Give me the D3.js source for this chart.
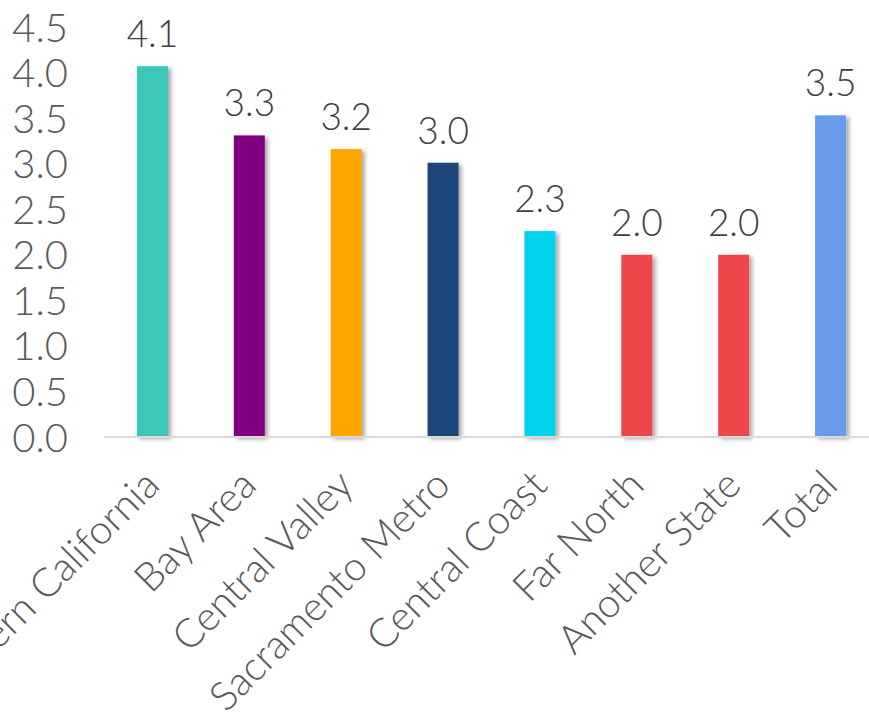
<!DOCTYPE html>
<html>
<head>
<meta charset="utf-8">
<script src="https://cdn.jsdelivr.net/npm/d3@7"></script>
<style>
  html, body { margin: 0; padding: 0; background: #fff; }
  svg { display: block; font-family: "Century Gothic", "Lato", "Open Sans", sans-serif; font-weight: 300; }
</style>
</head>
<body>
<svg id="chart" width="869" height="713"></svg>
<script>
// Regions and their average values
const regions = ["Southern California", "Bay Area", "Central Valley", "Sacramento Metro",
                 "Central Coast", "Far North", "Another State", "Total"];
const values = [4.07, 3.31, 3.16, 3.01, 2.26, 2.0, 2.0, 3.53];
const barColors = ["#3CC7B9", "#800080", "#FFA500", "#1F4478",
                   "#00D4EA", "#EE474A", "#EE474A", "#6A9AEB"];
const yTicks = [0, 0.5, 1, 1.5, 2, 2.5, 3, 3.5, 4, 4.5];

const svg = d3.select("#chart");

// Soft drop shadow behind each bar
const defs = svg.append("defs");
const f = defs.append("filter").attr("id", "shadow")
  .attr("x", "-30%").attr("y", "-10%").attr("width", "170%").attr("height", "130%");
f.append("feDropShadow").attr("dx", 3).attr("dy", 2).attr("stdDeviation", 2)
  .attr("flood-color", "#000").attr("flood-opacity", 0.35);

const x = d3.scaleBand().domain(regions).range([104, 879])
  .paddingInner(0.68).paddingOuter(0.34);
const y = d3.scaleLinear().domain([0, 4.5]).range([437, 27]);

// Y axis labels (no axis line, no ticks)
const yAxis = d3.axisLeft(y).tickValues(yTicks).tickFormat(d3.format(".1f"))
  .tickSize(0).tickPadding(0);
const gy = svg.append("g").attr("transform", "translate(68,0)").call(yAxis)
  .attr("font-family", null).attr("font-size", null);
gy.select(".domain").remove();
gy.selectAll("text").attr("fill", "#595959").attr("font-size", 40)
  .attr("dy", "0.35em");

// Bars
svg.append("g").selectAll("rect").data(values).join("rect")
  .attr("x", (d, i) => x(regions[i]))
  .attr("width", x.bandwidth())
  .attr("y", d => y(d))
  .attr("height", d => y(0) - y(d))
  .attr("fill", (d, i) => barColors[i])
  .attr("filter", "url(#shadow)");

// Baseline
const xAxis = d3.axisBottom(x).tickSize(0).tickFormat("");
const gx = svg.append("g").attr("transform", `translate(0,${y(0)})`).call(xAxis);
gx.select(".domain").attr("stroke", "#D9D9D9").attr("stroke-width", 2)
  .attr("d", "M104,0H869");

// Value labels above bars
svg.append("g").selectAll("text").data(values).join("text")
  .attr("x", (d, i) => x(regions[i]) + x.bandwidth() / 2)
  .attr("y", d => y(d) - 19)
  .attr("text-anchor", "middle")
  .attr("fill", "#404040")
  .attr("font-size", 37)
  .text(d => d3.format(".1f")(d));

// Category labels, rotated
svg.append("g").selectAll("text").data(regions).join("text")
  .attr("transform", d => `translate(${x(d) + x.bandwidth() / 2 - 12},466) rotate(-45)`)
  .attr("text-anchor", "end")
  .attr("dy", "0.75em")
  .attr("fill", "#595959")
  .attr("font-size", 40)
  .text(d => d);
</script>
</body>
</html>
